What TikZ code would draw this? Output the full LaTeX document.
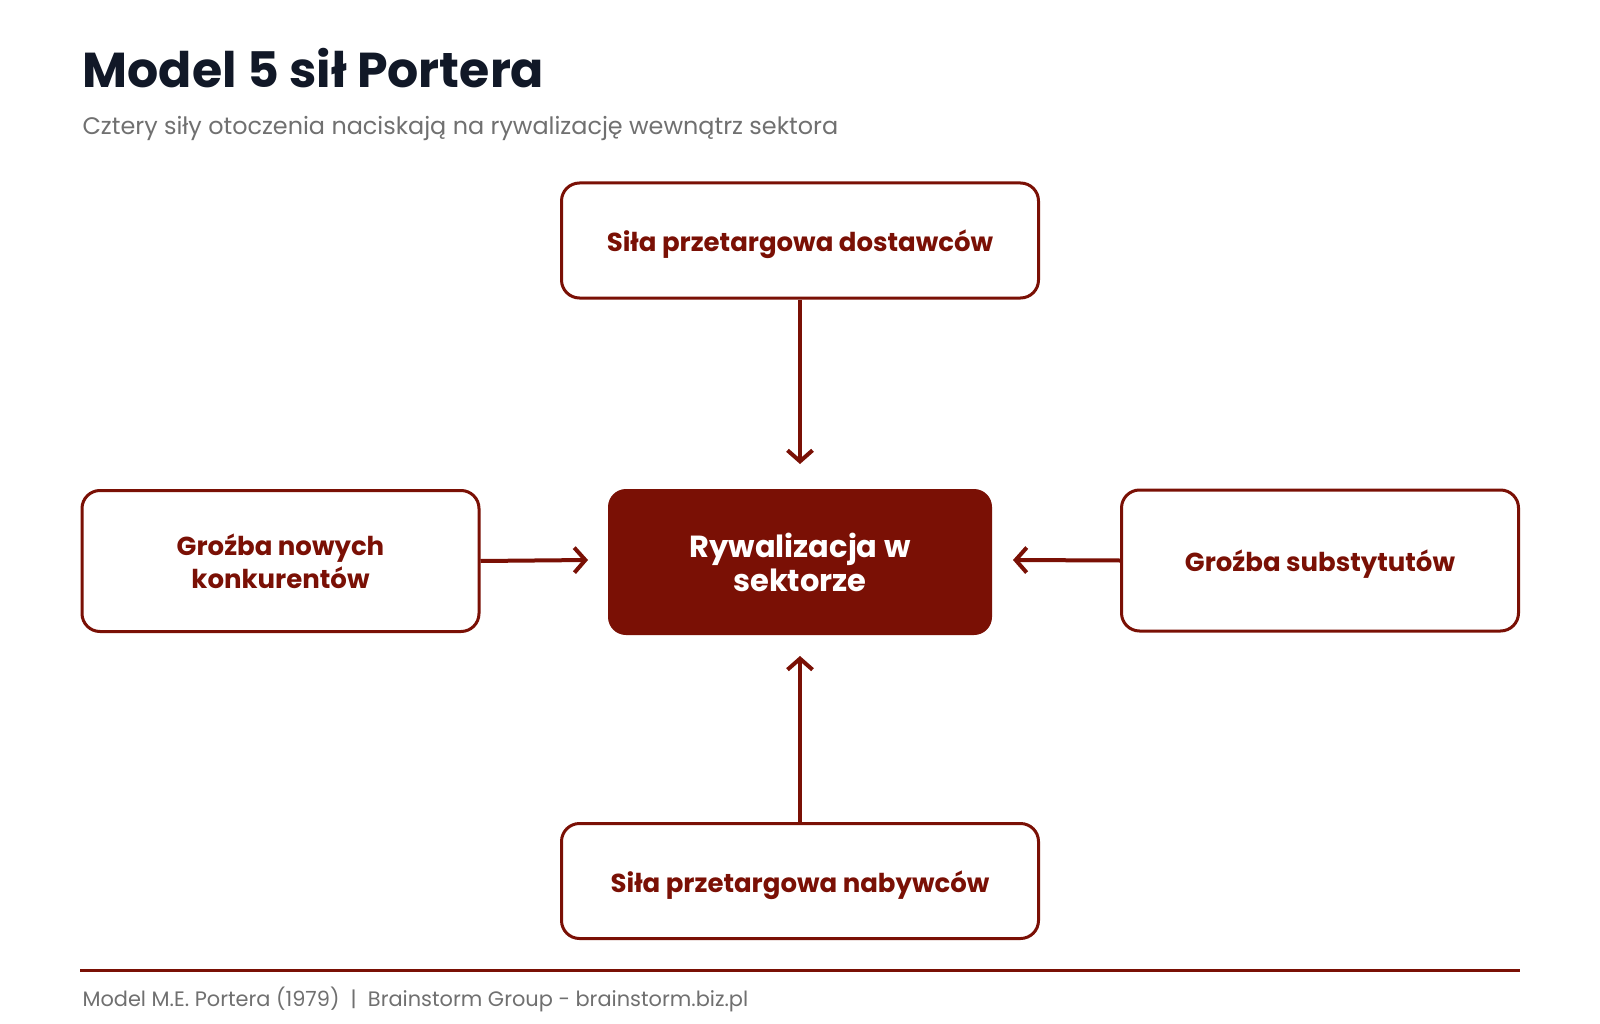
\documentclass[tikz,border=0pt]{standalone}
\usepackage{fontspec}
\setmainfont{Poppins}
\usetikzlibrary{arrows.meta}
\definecolor{dred}{HTML}{7A1005}
\definecolor{ttl}{HTML}{111827}
\definecolor{sub}{HTML}{707070}
\newcommand{\lowr}[1]{\raisebox{-4.5pt}[\ht\strutbox][\dp\strutbox]{#1\strut}}
\tikzset{
  force/.style={draw=dred, line width=3pt, rounded corners=18pt, fill=white, text=dred,
    font=\fontsize{26}{33}\selectfont\bfseries, align=center, inner sep=0pt},
  core/.style={fill=dred, rounded corners=18pt, text=white,
    font=\fontsize{30.5}{34}\selectfont\bfseries, align=center, inner sep=0pt},
  conn/.style={draw=dred, line width=4pt, -{Straight Barb[length=11pt,width=25pt,line width=4pt]}},
}
\begin{document}
\begin{tikzpicture}[x=1pt,y=-1pt]
\useasboundingbox[fill=white] (0,0) rectangle (1600,1024);
\node[anchor=base west, text=ttl, font=\fontsize{49}{56}\selectfont\bfseries] (title) at (79,88) {Model 5 sił Portera};
\node[anchor=base west, text=sub, font=\fontsize{23.9}{28}\selectfont] (subt) at (79,135) {Cztery siły otoczenia naciskają na rywalizację wewnątrz sektora};
\node[force, minimum width=477pt, minimum height=115pt] (sup) at (800,240.5) {\lowr{Siła przetargowa dostawców}};
\node[core, minimum width=384pt, minimum height=146pt] (mid) at (800,562) {Rywalizacja w\\sektorze};
\node[force, minimum width=397pt, minimum height=141pt] (new) at (280.5,561) {Groźba nowych\\konkurentów};
\node[force, minimum width=397pt, minimum height=141pt] (subs) at (1320,560.5) {\lowr{Groźba substytutów}};
\node[force, minimum width=477pt, minimum height=115pt] (buy) at (800,881) {\lowr{Siła przetargowa nabywców}};
\coordinate (tA) at (800,464);
\coordinate (tB) at (800,656);
\coordinate (tL) at (588,560);
\coordinate (tR) at (1013,560);
\draw[conn] (sup.south) -- (tA);
\draw[conn] (buy.north) -- (tB);
\draw[conn] (new.east) -- (tL);
\draw[conn] (subs.west) -- (tR);
\coordinate (la) at (80,970);
\coordinate (lb) at (1520,970);
\draw[dred, line width=3pt] (la) -- (lb);
\node[anchor=base west, text=sub, font=\fontsize{20.9}{24}\selectfont] (foot) at (79,1006) {Model M.E. Portera (1979) \ | \ Brainstorm Group - brainstorm.biz.pl};
\end{tikzpicture}
\end{document}
